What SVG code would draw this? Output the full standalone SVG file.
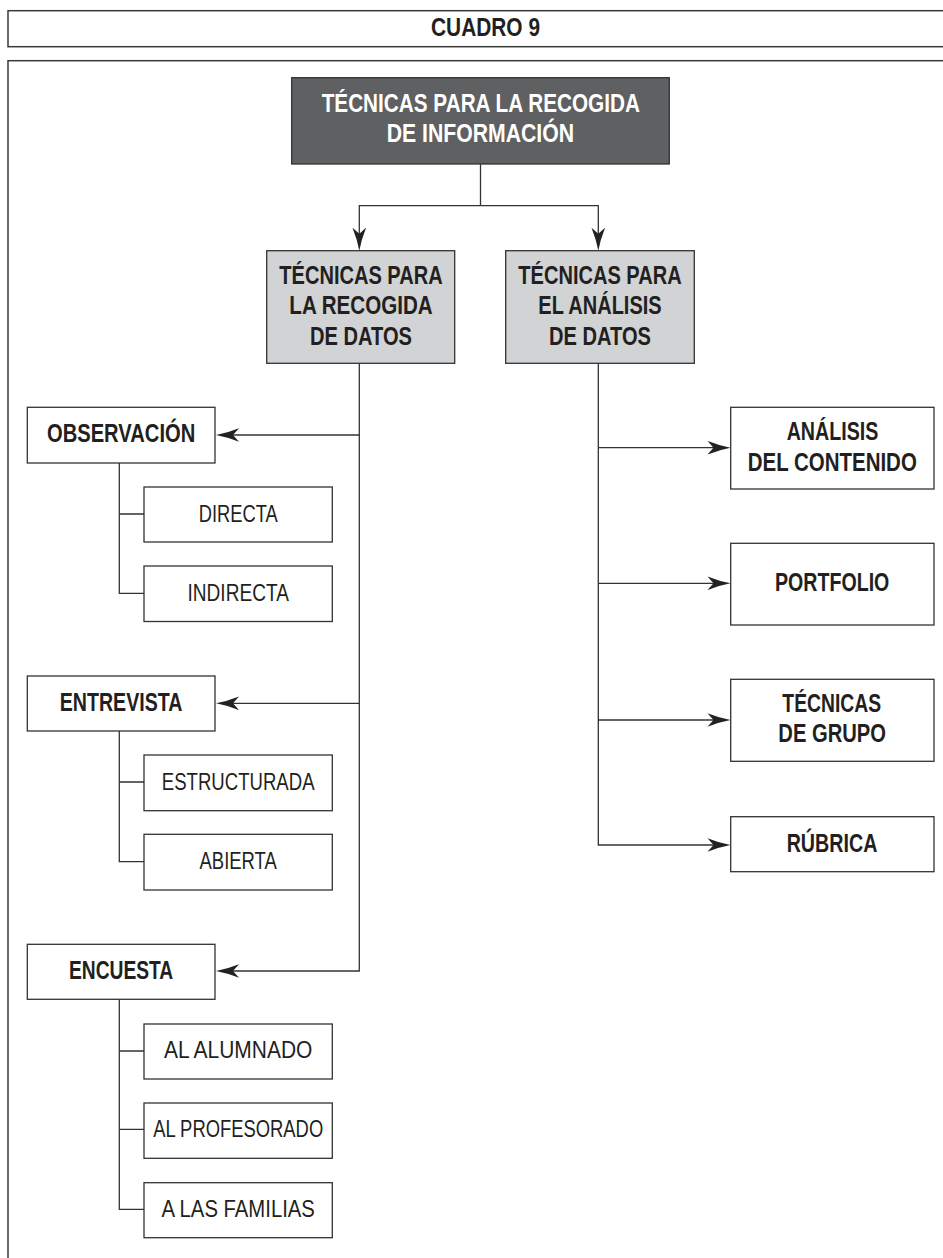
<svg xmlns="http://www.w3.org/2000/svg" width="943" height="1258" viewBox="0 0 943 1258">
<style>
.frame{fill:#fff;stroke:#3a3a3a;stroke-width:1.5}
.box{fill:#fff;stroke:#333;stroke-width:1.3}
.dark{fill:#5f6062;stroke:#333;stroke-width:1.3}
.grey{fill:#d1d3d4;stroke:#333;stroke-width:1.3}
.t{font-family:"Liberation Sans Narrow","Liberation Sans",Arial,sans-serif;font-size:25px;font-weight:bold;fill:#231f20;text-anchor:middle}
.r{font-family:"Liberation Sans Narrow","Liberation Sans",Arial,sans-serif;font-size:24px;font-weight:normal;fill:#231f20;text-anchor:middle}
.w{fill:#fff}
.c{fill:none;stroke:#333;stroke-width:1.3}
</style>
<defs>
<marker id="arr" markerUnits="userSpaceOnUse" viewBox="-19 -7 25 14" refX="0" refY="0" markerWidth="25" markerHeight="14" orient="auto">
<path d="M5,0 Q-6,-2 -18,-6.8 L-12,0 L-18,6.8 Q-6,2 5,0 Z" fill="#222"/>
</marker>
</defs>
<rect width="943" height="1258" fill="#fff"/>
<g id="header">
<rect class="frame" x="8" y="10.7" width="945" height="36"/>
<text class="t" x="485.5" y="35.7" textLength="109" lengthAdjust="spacingAndGlyphs">CUADRO 9</text>
</g>
<rect id="panel" class="frame" x="8" y="60.7" width="945" height="1210"/>
<g id="connectors">
<path class="c" d="M480.5,164 V205.7"/>
<path class="c" d="M480.5,205.7 H359.3 V245.7" marker-end="url(#arr)"/>
<path class="c" d="M480.5,205.7 H598.3 V245.7" marker-end="url(#arr)"/>
<path class="c" d="M359.3,363.3 V971 H221" marker-end="url(#arr)"/>
<path class="c" d="M359.3,435 H221" marker-end="url(#arr)"/>
<path class="c" d="M359.3,703.3 H221" marker-end="url(#arr)"/>
<path class="c" d="M119.3,463 V593.3 H144 M119.3,514 H144"/>
<path class="c" d="M119.3,731 V861.7 H144 M119.3,782 H144"/>
<path class="c" d="M119.3,999.3 V1209.3 H144 M119.3,1051 H144 M119.3,1129.3 H144"/>
<path class="c" d="M598.3,363.3 V845 H725.5" marker-end="url(#arr)"/>
<path class="c" d="M598.3,447.7 H725.5" marker-end="url(#arr)"/>
<path class="c" d="M598.3,583.3 H725.5" marker-end="url(#arr)"/>
<path class="c" d="M598.3,720 H725.5" marker-end="url(#arr)"/>
</g>
<g id="root">
<rect class="dark" x="291.7" y="77.7" width="377.6" height="86.3"/>
<text class="t w" x="480.8" y="111.7" textLength="318.3" lengthAdjust="spacingAndGlyphs">TÉCNICAS PARA LA RECOGIDA</text>
<text class="t w" x="480.4" y="141.7" textLength="187.3" lengthAdjust="spacingAndGlyphs">DE INFORMACIÓN</text>
</g>
<g id="recogida-datos">
<rect class="grey" x="266.7" y="250.7" width="188" height="112.6"/>
<text class="t" x="361" y="283.5" textLength="163.3" lengthAdjust="spacingAndGlyphs">TÉCNICAS PARA</text>
<text class="t" x="361" y="314" textLength="143.3" lengthAdjust="spacingAndGlyphs">LA RECOGIDA</text>
<text class="t" x="361" y="344.5" textLength="102" lengthAdjust="spacingAndGlyphs">DE DATOS</text>
</g>
<g id="analisis-datos">
<rect class="grey" x="505.7" y="250.7" width="188.6" height="112.6"/>
<text class="t" x="600" y="283.5" textLength="163.3" lengthAdjust="spacingAndGlyphs">TÉCNICAS PARA</text>
<text class="t" x="600" y="314" textLength="123.3" lengthAdjust="spacingAndGlyphs">EL ANÁLISIS</text>
<text class="t" x="600" y="344.5" textLength="102" lengthAdjust="spacingAndGlyphs">DE DATOS</text>
</g>
<g id="observacion">
<rect class="box" x="27.3" y="407.3" width="187.7" height="55.7"/>
<text class="t" x="121.1" y="442" textLength="148.3" lengthAdjust="spacingAndGlyphs">OBSERVACIÓN</text>
</g>
<g id="directa">
<rect class="box" x="144" y="487" width="188.3" height="55"/>
<text class="r" x="238.2" y="521.7" textLength="79" lengthAdjust="spacingAndGlyphs">DIRECTA</text>
</g>
<g id="indirecta">
<rect class="box" x="144" y="566" width="188.3" height="55.5"/>
<text class="r" x="238.2" y="600.7" textLength="101.3" lengthAdjust="spacingAndGlyphs">INDIRECTA</text>
</g>
<g id="entrevista">
<rect class="box" x="27.3" y="676" width="187.7" height="55"/>
<text class="t" x="121.1" y="710.5" textLength="122.7" lengthAdjust="spacingAndGlyphs">ENTREVISTA</text>
</g>
<g id="estructurada">
<rect class="box" x="144" y="755" width="188.3" height="55.7"/>
<text class="r" x="238.2" y="790" textLength="152.7" lengthAdjust="spacingAndGlyphs">ESTRUCTURADA</text>
</g>
<g id="abierta">
<rect class="box" x="144" y="834.3" width="188.3" height="55.7"/>
<text class="r" x="238.2" y="868.7" textLength="77.3" lengthAdjust="spacingAndGlyphs">ABIERTA</text>
</g>
<g id="encuesta">
<rect class="box" x="27.3" y="944.3" width="187.7" height="55"/>
<text class="t" x="121.1" y="978.5" textLength="104.3" lengthAdjust="spacingAndGlyphs">ENCUESTA</text>
</g>
<g id="alumnado">
<rect class="box" x="144" y="1024" width="188.3" height="55"/>
<text class="r" x="238.2" y="1058" textLength="148.3" lengthAdjust="spacingAndGlyphs">AL ALUMNADO</text>
</g>
<g id="profesorado">
<rect class="box" x="144" y="1103" width="188.3" height="55.3"/>
<text class="r" x="238.2" y="1137" textLength="170" lengthAdjust="spacingAndGlyphs">AL PROFESORADO</text>
</g>
<g id="familias">
<rect class="box" x="144" y="1182.7" width="188.3" height="55"/>
<text class="r" x="238.2" y="1217" textLength="153.3" lengthAdjust="spacingAndGlyphs">A LAS FAMILIAS</text>
</g>
<g id="analisis-contenido">
<rect class="box" x="730.7" y="407.3" width="203.3" height="81.7"/>
<text class="t" x="832.5" y="440" textLength="91.7" lengthAdjust="spacingAndGlyphs">ANÁLISIS</text>
<text class="t" x="832.3" y="471" textLength="169" lengthAdjust="spacingAndGlyphs">DEL CONTENIDO</text>
</g>
<g id="portfolio">
<rect class="box" x="730.7" y="543.3" width="203.3" height="81.7"/>
<text class="t" x="832.2" y="591" textLength="114.3" lengthAdjust="spacingAndGlyphs">PORTFOLIO</text>
</g>
<g id="tecnicas-grupo">
<rect class="box" x="730.7" y="679.3" width="203.3" height="82"/>
<text class="t" x="831.7" y="712.3" textLength="98.7" lengthAdjust="spacingAndGlyphs">TÉCNICAS</text>
<text class="t" x="832.2" y="742.3" textLength="107.7" lengthAdjust="spacingAndGlyphs">DE GRUPO</text>
</g>
<g id="rubrica">
<rect class="box" x="730.7" y="816.7" width="203.3" height="55"/>
<text class="t" x="832" y="851.7" textLength="90.7" lengthAdjust="spacingAndGlyphs">RÚBRICA</text>
</g>
</svg>
